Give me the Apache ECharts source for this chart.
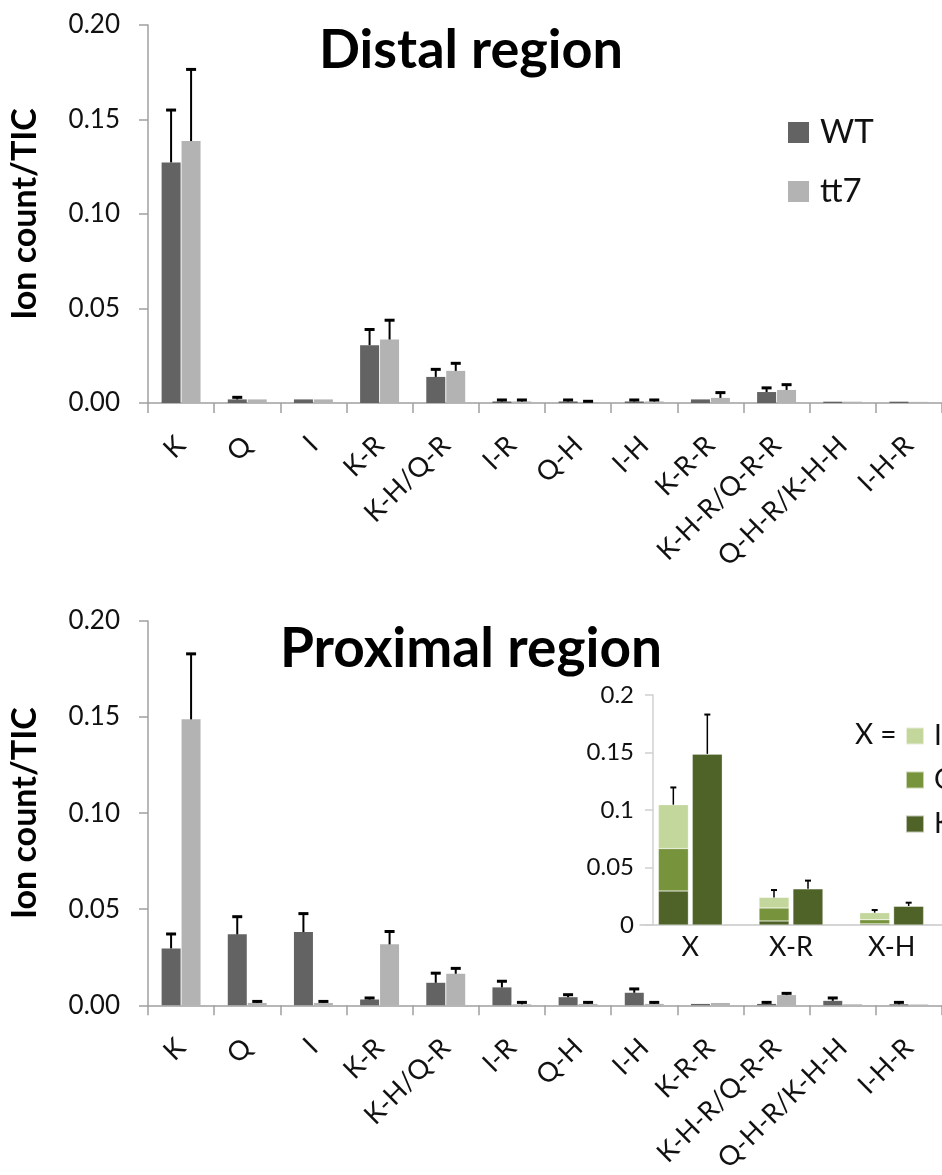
<!DOCTYPE html>
<html><head><meta charset="utf-8">
<script src="https://cdn.jsdelivr.net/npm/echarts@6/dist/echarts.min.js"></script>
<style>html,body{margin:0;padding:0;background:#fff}#c{width:942px;height:1175px}</style>
</head><body><div id="c"></div>
<script>
const categories = ['K','Q','I','K-R','K-H/Q-R','I-R','Q-H','I-H','K-R-R','K-H-R/Q-R-R','Q-H-R/K-H-H','I-H-R'];
const yTicks = [0, 0.05, 0.10, 0.15, 0.20];

const distalWT     = [0.1273, 0.0019, 0.0019, 0.0306, 0.0138, 0.0008, 0.0008, 0.0008, 0.0019, 0.0058, 0.0007, 0.0007];
const distalWTErr  = [0.0277, 0.0011, 0,      0.0083, 0.0040, 0.0008, 0.0008, 0.0008, 0,      0.0022, 0,      0];
const distalTT7    = [0.1386, 0.0019, 0.0019, 0.0336, 0.0170, 0.0008, 0.0005, 0.0008, 0.0027, 0.0069, 0.0007, 0.0006];
const distalTT7Err = [0.0379, 0,      0,      0.0102, 0.0040, 0.0008, 0.0004, 0.0008, 0.0028, 0.0028, 0,      0];

const proxWT     = [0.0296, 0.0369, 0.0381, 0.0030, 0.0117, 0.0093, 0.0042, 0.0065, 0.0007, 0.0007, 0.0023, 0.0005];
const proxWTErr  = [0.0075, 0.0092, 0.0096, 0.0008, 0.0050, 0.0032, 0.0013, 0.0020, 0,      0.0008, 0.0015, 0.0010];
const proxTT7    = [0.1488, 0.0012, 0.0012, 0.0317, 0.0164, 0.0005, 0.0007, 0.0007, 0.0012, 0.0053, 0.0005, 0.0004];
const proxTT7Err = [0.0341, 0.0008, 0.0008, 0.0067, 0.0028, 0.0010, 0.0008, 0.0008, 0,      0.0009, 0,      0];

const insetCategories = ['X','X-R','X-H'];
const insetTicks = [0, 0.05, 0.1, 0.15, 0.2];
const insetWT_K = [0.0296, 0.0035, 0.0010];
const insetWT_Q = [0.0369, 0.0113, 0.0036];
const insetWT_I = [0.0381, 0.0092, 0.0061];
const insetWT_Err = [0.0150, 0.0064, 0.0023];
const insetTT7_K = [0.1488, 0.0316, 0.0165];
const insetTT7_Q = [0, 0, 0];
const insetTT7_I = [0, 0, 0];
const insetTT7_Err = [0.0342, 0.0070, 0.0029];

const FONT = 'Lato';
const C_WT = '#636363', C_TT7 = '#b3b3b3';
const C_I = '#c3d69b', C_Q = '#77933c', C_K = '#4f6228';
const AXIS = '#a0a0a0';

function errRender(offsetPx, capHalf, stemW, capW) {
  return function (params, api) {
    const i = api.value(0), v = api.value(1), e = api.value(2);
    if (!(e > 0)) return null;
    const base = api.coord([i, v]);
    const top = api.coord([i, v + e]);
    const x = base[0] + offsetPx;
    return {type: 'group', children: [
      {type: 'line', shape: {x1: x, y1: base[1], x2: x, y2: top[1]}, style: {stroke: '#000', lineWidth: stemW}},
      {type: 'line', shape: {x1: x - capHalf, y1: top[1], x2: x + capHalf, y2: top[1]}, style: {stroke: '#000', lineWidth: capW}}
    ]};
  };
}
function errData(vals, errs) { return vals.map((v, i) => [i, v, errs[i]]); }
function sum3(a, b, c) { return a.map((v, i) => v + b[i] + c[i]); }

function mainX(gi) {
  return {
    type: 'category', gridIndex: gi, data: categories,
    axisLine: {lineStyle: {color: AXIS, width: 1.5}},
    axisTick: {show: true, length: 10, lineStyle: {color: AXIS, width: 1.5}},
    axisLabel: {interval: 0, rotate: 45, margin: 38, fontSize: 27, color: '#111', fontFamily: FONT}
  };
}
function mainY(gi) {
  return {
    type: 'value', gridIndex: gi, min: yTicks[0], max: yTicks[yTicks.length - 1], interval: yTicks[1] - yTicks[0],
    splitLine: {show: false},
    axisLine: {show: true, lineStyle: {color: AXIS, width: 1.5}},
    axisTick: {show: true, length: 9, lineStyle: {color: AXIS, width: 1.5}},
    axisLabel: {margin: 28, fontSize: 26, color: '#111', fontFamily: FONT, formatter: v => v.toFixed(2)},
    name: 'Ion count/TIC', nameLocation: 'middle', nameGap: 106,
    nameTextStyle: {fontSize: 34, fontWeight: 'bold', color: '#000', fontFamily: FONT}
  };
}
function barSeries(name, data, color, xi) {
  return {type: 'bar', name, xAxisIndex: xi, yAxisIndex: xi, data, barWidth: 19, barGap: '5%',
    itemStyle: {color}, emphasis: {disabled: true}};
}
function errSeries(vals, errs, off, xi) {
  return {type: 'custom', xAxisIndex: xi, yAxisIndex: xi, renderItem: errRender(off, 5, 2, 3),
    data: errData(vals, errs), encode: {x: 0, y: 1}, z: 5, silent: true};
}
function insetBar(name, data, color, stack) {
  return {type: 'bar', name, xAxisIndex: 2, yAxisIndex: 2, stack, data, barWidth: 30, barGap: '13%',
    itemStyle: {color, borderColor: 'rgba(255,255,255,0.6)', borderWidth: 0.5}, emphasis: {disabled: true}};
}

const chart = echarts.init(document.getElementById('c'), null, {renderer: 'canvas'});
chart.setOption({
  animation: false,
  backgroundColor: '#fff',
  title: [
    {text: 'Distal region', left: 'center', top: 19, textStyle: {fontSize: 54, fontWeight: 'bold', color: '#000', fontFamily: FONT}},
    {text: 'Proximal region', left: 'center', top: 617, textStyle: {fontSize: 55, fontWeight: 'bold', color: '#000', fontFamily: FONT}}
  ],
  legend: [
    {data: ['WT', 'tt7'], orient: 'vertical', left: 783, top: 111, itemWidth: 21, itemHeight: 21, itemGap: 26,
      icon: 'rect', selectedMode: false,
      textStyle: {fontSize: 33, color: '#111', fontFamily: FONT, lineHeight: 21, padding: [0, 0, 0, 6]}},
    {data: ['I', 'Q', 'K'], orient: 'vertical', left: 900, top: 717, itemWidth: 18, itemHeight: 17, itemGap: 16,
      icon: 'rect', selectedMode: false,
      textStyle: {fontSize: 28, color: '#111', fontFamily: FONT, lineHeight: 17, padding: [0, 0, 0, 5]}}
  ],
  graphic: [
    {type: 'text', left: 855, top: 721, style: {text: 'X =', fontSize: 28, fill: '#111', fontFamily: FONT}}
  ],
  grid: [
    {left: 146, right: -6, top: 25, bottom: 772},
    {left: 147, right: -6, top: 621, bottom: 155},
    {left: 640, right: -3, top: 695, bottom: 250}
  ],
  xAxis: [
    mainX(0), mainX(1),
    {type: 'category', gridIndex: 2, data: insetCategories,
      axisLine: {lineStyle: {color: '#c8c8c8', width: 1.5}}, axisTick: {show: false},
      axisLabel: {margin: 9, fontSize: 27, color: '#111', fontFamily: FONT}}
  ],
  yAxis: [
    mainY(0), mainY(1),
    {type: 'value', gridIndex: 2, min: insetTicks[0], max: insetTicks[insetTicks.length - 1], interval: insetTicks[1] - insetTicks[0],
      offset: -13, splitLine: {show: false},
      axisLine: {show: true, lineStyle: {color: '#d0d0d0', width: 1.5}},
      axisTick: {show: true, length: 8, lineStyle: {color: '#d0d0d0', width: 1.5}},
      axisLabel: {margin: 19, fontSize: 24, color: '#111', fontFamily: FONT,
        formatter: v => String(parseFloat(v.toFixed(2)))}}
  ],
  series: [
    barSeries('WT', distalWT, C_WT, 0),
    barSeries('tt7', distalTT7, C_TT7, 0),
    errSeries(distalWT, distalWTErr, -10, 0),
    errSeries(distalTT7, distalTT7Err, 10, 0),
    barSeries('WT', proxWT, C_WT, 1),
    barSeries('tt7', proxTT7, C_TT7, 1),
    errSeries(proxWT, proxWTErr, -10, 1),
    errSeries(proxTT7, proxTT7Err, 10, 1),
    insetBar('K', insetWT_K, C_K, 'wt'),
    insetBar('Q', insetWT_Q, C_Q, 'wt'),
    insetBar('I', insetWT_I, C_I, 'wt'),
    insetBar('K', insetTT7_K, C_K, 'tt7'),
    insetBar('Q', insetTT7_Q, C_Q, 'tt7'),
    insetBar('I', insetTT7_I, C_I, 'tt7'),
    {type: 'custom', xAxisIndex: 2, yAxisIndex: 2, renderItem: errRender(-17, 3, 1.5, 2),
      data: errData(sum3(insetWT_K, insetWT_Q, insetWT_I), insetWT_Err), encode: {x: 0, y: 1}, z: 5, silent: true},
    {type: 'custom', xAxisIndex: 2, yAxisIndex: 2, renderItem: errRender(17, 3, 1.5, 2),
      data: errData(sum3(insetTT7_K, insetTT7_Q, insetTT7_I), insetTT7_Err), encode: {x: 0, y: 1}, z: 5, silent: true}
  ]
});
</script></body></html>
